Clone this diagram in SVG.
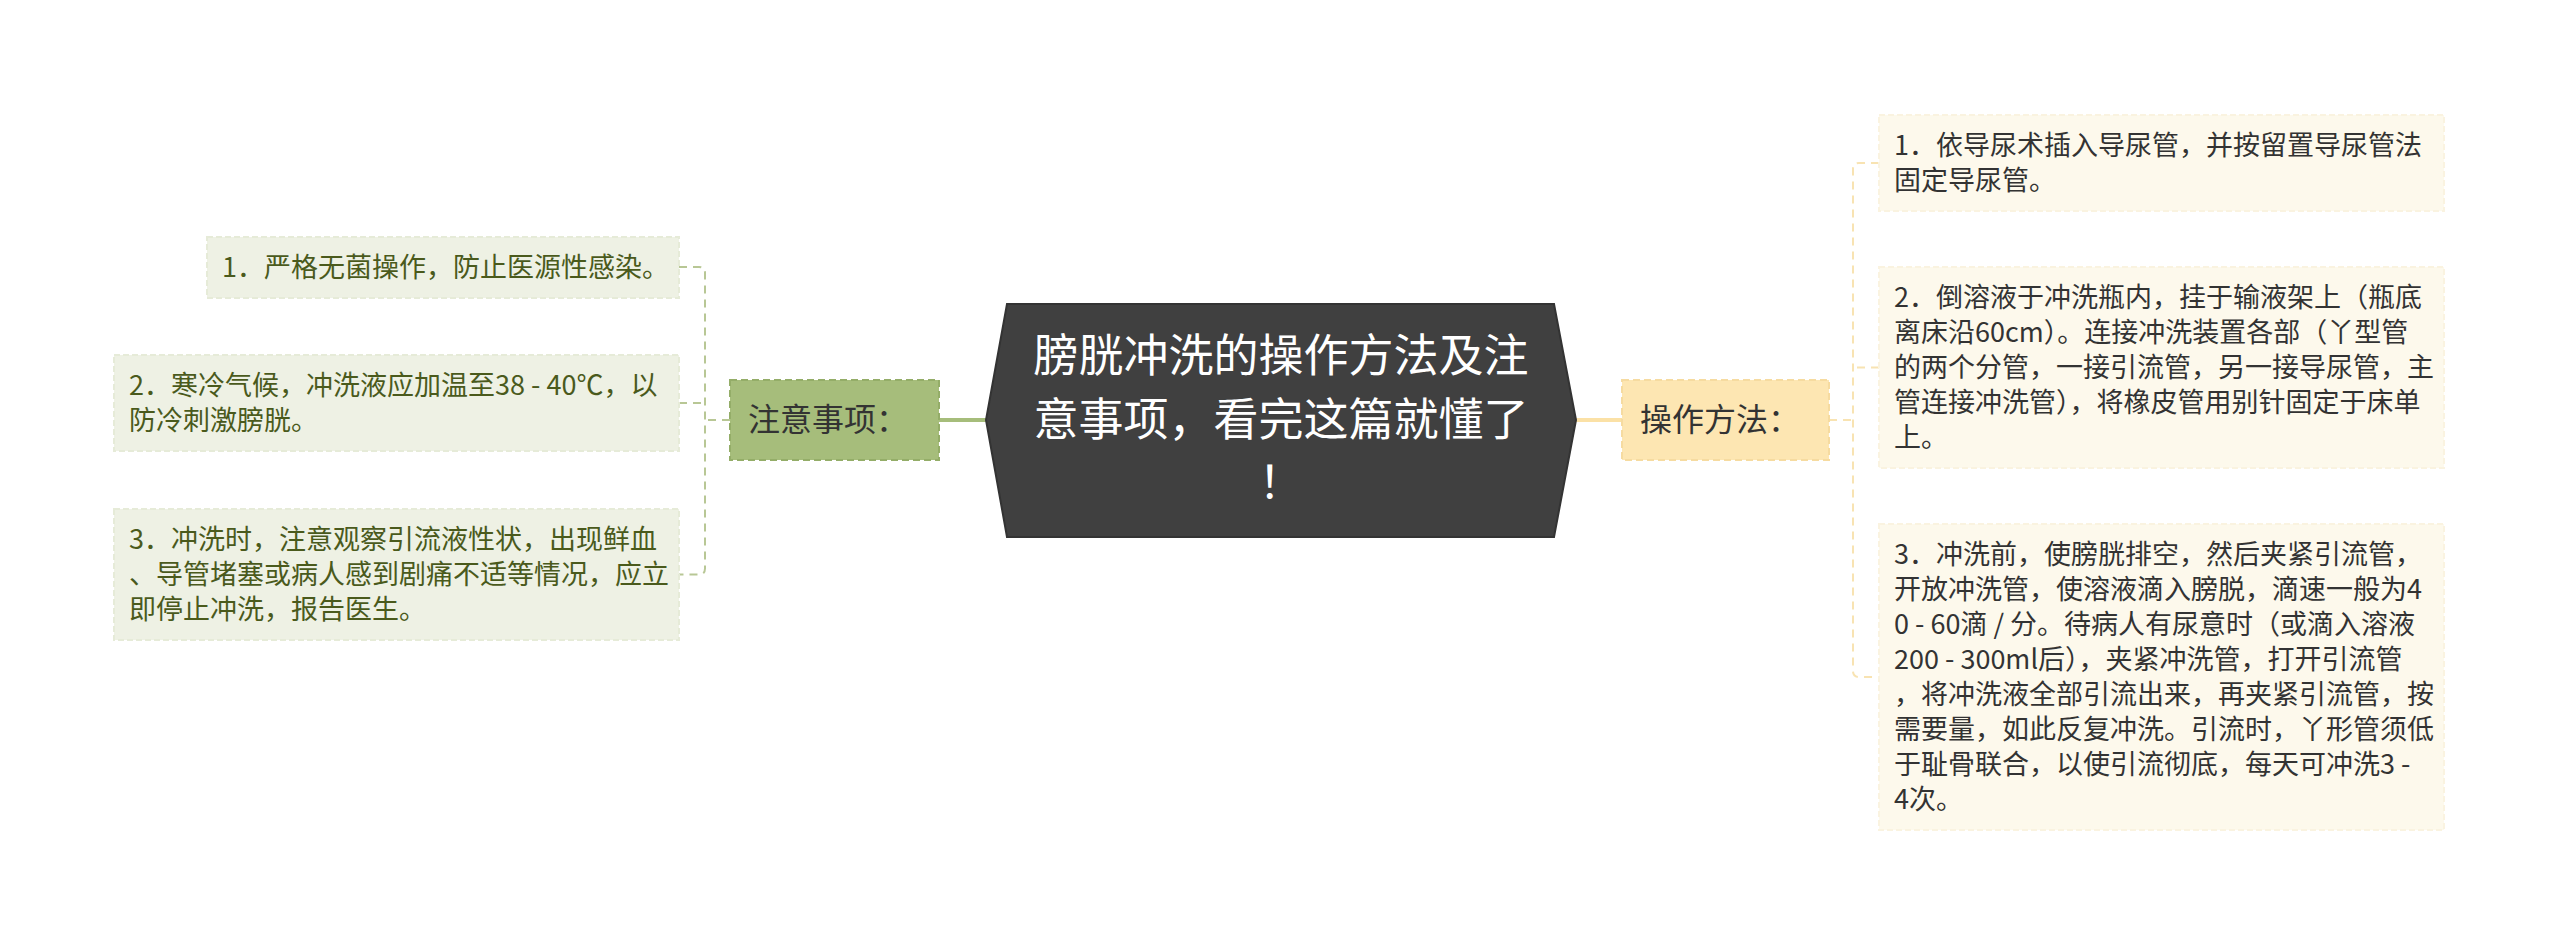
<svg xmlns="http://www.w3.org/2000/svg" width="2560" height="945" viewBox="0 0 2560 945">
<style>
text{font-family:"Noto Sans CJK SC","Noto Sans",sans-serif}
.leafL{fill:#eef1e4;stroke:#e6ebd8;stroke-width:2;stroke-dasharray:6 3}
.leafR{fill:#fdf9ec;stroke:#faf3e0;stroke-width:2;stroke-dasharray:6 3}
.tL{font-size:27px;fill:#4a5a1c}
.tR{font-size:27px;fill:#333333}
.sub{font-size:32px;fill:#333333}
.cG{fill:none;stroke:#b8c795;stroke-width:2;stroke-dasharray:8 6}
.cY{fill:none;stroke:#f8e3b2;stroke-width:2;stroke-dasharray:8 6}
</style>
<rect width="2560" height="945" fill="#ffffff"/>
<g id="connectors">
<line x1="939" y1="420" x2="987" y2="420" stroke="#a6bd7b" stroke-width="4"/>
<line x1="1575" y1="420" x2="1622" y2="420" stroke="#fbe1a6" stroke-width="4"/>
<path class="cG" d="M730 420 H705 M679 267 H699 Q705 267 705 273 V568.5 Q705 574.5 699 574.5 H679 M679 403 H705"/>
<path class="cY" d="M1829 420 H1853 M1879 163 H1859 Q1853 163 1853 169 V671 Q1853 677 1859 677 H1879 M1879 367.5 H1853"/>
</g>
<g id="center">
<polygon points="1007,304 1554,304 1576,420 1554,537 1007,537 986,420" fill="#404040" stroke="#333333" stroke-width="2"/>
<text x="1281" y="372" font-size="45" fill="#ffffff" text-anchor="middle">膀胱冲洗的操作方法及注</text>
<text x="1281" y="436" font-size="45" fill="#ffffff" text-anchor="middle">意事项，看完这篇就懂了</text>
<text x="1281" y="499" font-size="45" fill="#ffffff" text-anchor="middle">！</text>
</g>
<g id="notes">
<rect x="730" y="380" width="209" height="80" fill="#a6bd7b" stroke="#94ad68" stroke-width="2" stroke-dasharray="7 4"/>
<text class="sub" x="748" y="431">注意事项：</text>
</g>
<g id="method">
<rect x="1622" y="380" width="207" height="80" fill="#fde6b2" stroke="#f6dba0" stroke-width="2" stroke-dasharray="7 4"/>
<text class="sub" x="1640" y="431">操作方法：</text>
</g>
<g id="note1">
<rect class="leafL" x="207" y="237" width="472" height="61"/>
<text class="tL" x="222" y="276.5">1．严格无菌操作，防止医源性感染。</text>
</g>
<g id="note2">
<rect class="leafL" x="114" y="355" width="565" height="96"/>
<text class="tL" x="129" y="395">2．寒冷气候，冲洗液应加温至38 - 40℃，以</text>
<text class="tL" x="129" y="430">防冷刺激膀胱。</text>
</g>
<g id="note3">
<rect class="leafL" x="114" y="509" width="565" height="131"/>
<text class="tL" x="129" y="549">3．冲洗时，注意观察引流液性状，出现鲜血</text>
<text class="tL" x="129" y="584">、导管堵塞或病人感到剧痛不适等情况，应立</text>
<text class="tL" x="129" y="619">即停止冲洗，报告医生。</text>
</g>
<g id="step1">
<rect class="leafR" x="1879" y="115" width="565" height="96"/>
<text class="tR" x="1894" y="155">1．依导尿术插入导尿管，并按留置导尿管法</text>
<text class="tR" x="1894" y="190">固定导尿管。</text>
</g>
<g id="step2">
<rect class="leafR" x="1879" y="267" width="565" height="201"/>
<text class="tR" x="1894" y="307">2．倒溶液于冲洗瓶内，挂于输液架上（瓶底</text>
<text class="tR" x="1894" y="342">离床沿60cm）。连接冲洗装置各部（丫型管</text>
<text class="tR" x="1894" y="377">的两个分管，一接引流管，另一接导尿管，主</text>
<text class="tR" x="1894" y="412">管连接冲洗管），将橡皮管用别针固定于床单</text>
<text class="tR" x="1894" y="447">上。</text>
</g>
<g id="step3">
<rect class="leafR" x="1879" y="524" width="565" height="306"/>
<text class="tR" x="1894" y="564">3．冲洗前，使膀胱排空，然后夹紧引流管，</text>
<text class="tR" x="1894" y="599">开放冲洗管，使溶液滴入膀脱，滴速一般为4</text>
<text class="tR" x="1894" y="634">0 - 60滴 / 分。待病人有尿意时（或滴入溶液</text>
<text class="tR" x="1894" y="669">200 - 300ml后），夹紧冲洗管，打开引流管</text>
<text class="tR" x="1894" y="704">，将冲洗液全部引流出来，再夹紧引流管，按</text>
<text class="tR" x="1894" y="739">需要量，如此反复冲洗。引流时，丫形管须低</text>
<text class="tR" x="1894" y="774">于耻骨联合，以使引流彻底，每天可冲洗3 -</text>
<text class="tR" x="1894" y="809">4次。</text>
</g>
</svg>
